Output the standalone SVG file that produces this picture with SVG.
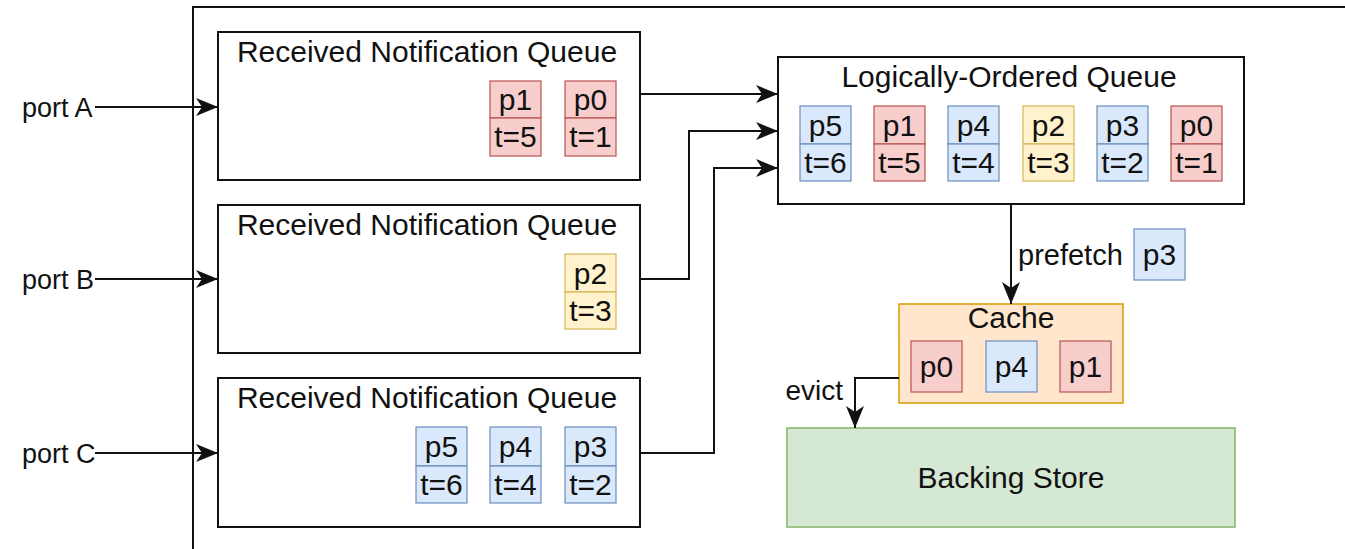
<svg xmlns="http://www.w3.org/2000/svg" width="1345" height="549" viewBox="0 0 1345 549">
  <style>
    text { font-family: "Liberation Sans", Arial, sans-serif; font-size: 30px; fill: #111; }
    .c { text-anchor: middle; }
    .port { font-size: 27px; }
    .edge { font-size: 29px; }
    .box { fill: #ffffff; stroke: #111; stroke-width: 2; }
    .red { fill: #f8cecc; stroke: #b85450; stroke-width: 1.2; }
    .blue { fill: #dae8fc; stroke: #6c8ebf; stroke-width: 1.2; }
    .yellow { fill: #fff2cc; stroke: #d6b656; stroke-width: 1.2; }
    .cache { fill: #ffe6cc; stroke: #d79b00; stroke-width: 1.5; }
    .store { fill: #d5e8d4; stroke: #82b366; stroke-width: 1.5; }
    .wire { fill: none; stroke: #111; stroke-width: 2; }
  </style>
  <defs>
    <marker id="arrow" markerUnits="userSpaceOnUse" markerWidth="24" markerHeight="20" viewBox="0 0 24 20" refX="22" refY="10" orient="auto">
      <path d="M0,1 L22,10 L0,19 L6,10 Z" fill="#111"/>
    </marker>
  </defs>

  <rect width="1345" height="549" fill="#ffffff"/>

  <!-- enclosing system boundary -->
  <rect id="system" x="193" y="7" width="1200" height="600" fill="#ffffff" stroke="#111" stroke-width="2"/>

  <!-- port labels -->
  <g id="portA"><text class="port" x="22" y="117">port A</text></g>
  <g id="portB"><text class="port" x="22" y="289">port B</text></g>
  <g id="portC"><text class="port" x="22" y="463">port C</text></g>

  <!-- Received Notification Queue A -->
  <g id="rnqA">
    <rect class="box" x="218" y="32" width="422" height="148"/>
    <text class="c" x="427" y="62">Received Notification Queue</text>
    <g>
      <rect class="red" x="490" y="81" width="51" height="37"/>
      <rect class="red" x="490" y="118" width="51" height="38"/>
      <text class="c" x="515.5" y="110">p1</text>
      <text class="c" x="515.5" y="146.5">t=5</text>
    </g>
    <g>
      <rect class="red" x="565" y="81" width="51" height="37"/>
      <rect class="red" x="565" y="118" width="51" height="38"/>
      <text class="c" x="590.5" y="110">p0</text>
      <text class="c" x="590.5" y="146.5">t=1</text>
    </g>
  </g>

  <!-- Received Notification Queue B -->
  <g id="rnqB">
    <rect class="box" x="218" y="205" width="422" height="148"/>
    <text class="c" x="427" y="235">Received Notification Queue</text>
    <g>
      <rect class="yellow" x="565" y="254" width="51" height="38"/>
      <rect class="yellow" x="565" y="292" width="51" height="37"/>
      <text class="c" x="590.5" y="283.5">p2</text>
      <text class="c" x="590.5" y="320.5">t=3</text>
    </g>
  </g>

  <!-- Received Notification Queue C -->
  <g id="rnqC">
    <rect class="box" x="218" y="378" width="422" height="149"/>
    <text class="c" x="427" y="408">Received Notification Queue</text>
    <g>
      <rect class="blue" x="416" y="427" width="51" height="39"/>
      <rect class="blue" x="416" y="466" width="51" height="37"/>
      <text class="c" x="441.5" y="456.5">p5</text>
      <text class="c" x="441.5" y="494.5">t=6</text>
    </g>
    <g>
      <rect class="blue" x="490" y="427" width="51" height="39"/>
      <rect class="blue" x="490" y="466" width="51" height="37"/>
      <text class="c" x="515.5" y="456.5">p4</text>
      <text class="c" x="515.5" y="494.5">t=4</text>
    </g>
    <g>
      <rect class="blue" x="565" y="427" width="51" height="39"/>
      <rect class="blue" x="565" y="466" width="51" height="37"/>
      <text class="c" x="590.5" y="456.5">p3</text>
      <text class="c" x="590.5" y="494.5">t=2</text>
    </g>
  </g>

  <!-- Logically-Ordered Queue -->
  <g id="orderedQueue">
    <rect class="box" x="778" y="57" width="466" height="147"/>
    <text class="c" x="1009" y="87">Logically-Ordered Queue</text>
    <g>
      <rect class="blue" x="800" y="106" width="51" height="38"/>
      <rect class="blue" x="800" y="144" width="51" height="37"/>
      <text class="c" x="825.5" y="135.5">p5</text>
      <text class="c" x="825.5" y="172.5">t=6</text>
    </g>
    <g>
      <rect class="red" x="874" y="106" width="51" height="38"/>
      <rect class="red" x="874" y="144" width="51" height="37"/>
      <text class="c" x="899.5" y="135.5">p1</text>
      <text class="c" x="899.5" y="172.5">t=5</text>
    </g>
    <g>
      <rect class="blue" x="948" y="106" width="51" height="38"/>
      <rect class="blue" x="948" y="144" width="51" height="37"/>
      <text class="c" x="973.5" y="135.5">p4</text>
      <text class="c" x="973.5" y="172.5">t=4</text>
    </g>
    <g>
      <rect class="yellow" x="1023" y="106" width="51" height="38"/>
      <rect class="yellow" x="1023" y="144" width="51" height="37"/>
      <text class="c" x="1048.5" y="135.5">p2</text>
      <text class="c" x="1048.5" y="172.5">t=3</text>
    </g>
    <g>
      <rect class="blue" x="1097" y="106" width="51" height="38"/>
      <rect class="blue" x="1097" y="144" width="51" height="37"/>
      <text class="c" x="1122.5" y="135.5">p3</text>
      <text class="c" x="1122.5" y="172.5">t=2</text>
    </g>
    <g>
      <rect class="red" x="1171" y="106" width="51" height="38"/>
      <rect class="red" x="1171" y="144" width="51" height="37"/>
      <text class="c" x="1196.5" y="135.5">p0</text>
      <text class="c" x="1196.5" y="172.5">t=1</text>
    </g>
  </g>

  <!-- Cache -->
  <g id="cache">
    <rect class="cache" x="899" y="304" width="224" height="99"/>
    <text class="c" x="1011" y="328">Cache</text>
    <rect class="red" x="911" y="341" width="51" height="51"/>
    <text class="c" x="936.5" y="377">p0</text>
    <rect class="blue" x="986" y="341" width="51" height="51"/>
    <text class="c" x="1011.5" y="377">p4</text>
    <rect class="red" x="1060" y="341" width="51" height="51"/>
    <text class="c" x="1085.5" y="377">p1</text>
  </g>

  <!-- Backing Store -->
  <g id="backingStore">
    <rect class="store" x="787" y="428" width="448" height="99"/>
    <text class="c" x="1011" y="488">Backing Store</text>
  </g>

  <!-- connectors -->
  <g id="connectors">
    <path class="wire" d="M95,107 H218" marker-end="url(#arrow)"/>
    <path class="wire" d="M95,279 H218" marker-end="url(#arrow)"/>
    <path class="wire" d="M95,453 H218" marker-end="url(#arrow)"/>
    <path class="wire" d="M640,94 H778" marker-end="url(#arrow)"/>
    <path class="wire" d="M640,279 H689 V131 H778" marker-end="url(#arrow)"/>
    <path class="wire" d="M641,453 H714 V168 H778" marker-end="url(#arrow)"/>
    <path class="wire" d="M1011,204 V304" marker-end="url(#arrow)"/>
    <path class="wire" d="M899,378 H855 V428" marker-end="url(#arrow)"/>
  </g>

  <!-- connector labels -->
  <g id="prefetchLabel">
    <text class="edge" x="1018" y="265">prefetch</text>
    <rect class="blue" x="1134" y="229" width="51" height="51"/>
    <text class="c" x="1159.5" y="265">p3</text>
  </g>
  <g id="evictLabel">
    <text x="843" y="400" text-anchor="end" style="font-size:28px">evict</text>
  </g>
</svg>
